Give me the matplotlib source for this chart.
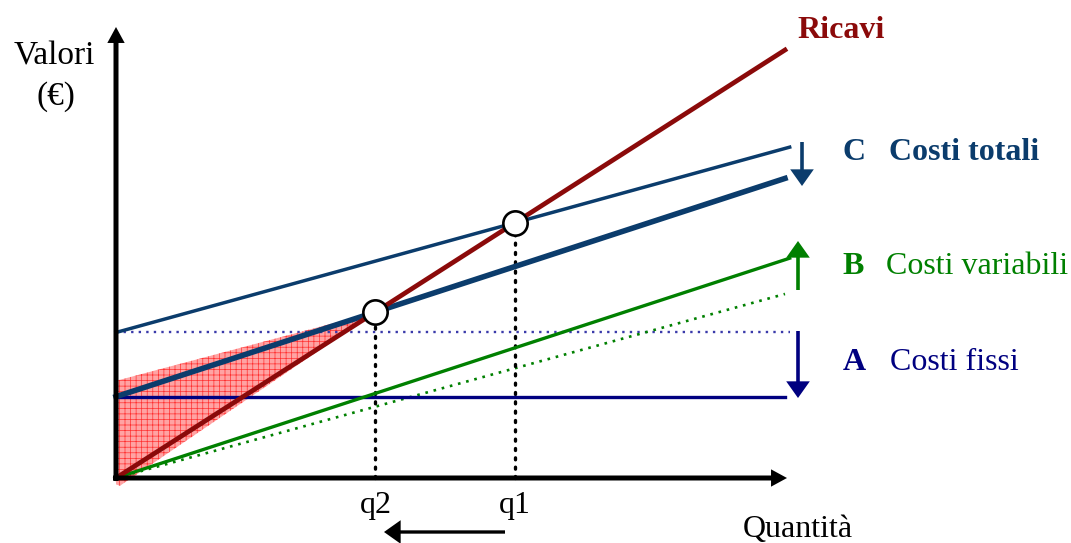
import numpy as np
import matplotlib.pyplot as plt
from matplotlib.patches import Polygon

plt.rcParams['font.family'] = ['Liberation Serif', 'DejaVu Serif']
plt.rcParams['hatch.linewidth'] = 0.5

# Break-even model (price = 1 per unit)
price = 1.0
fixed_old, fixed_new = 34.0, 19.0          # A: fixed costs fall
var_old, var_new = 0.43, 0.51              # B: unit variable cost rises
q_end = 100.0                              # right end of most lines
q_end_long = 100.7                         # right end of the longer ones

q1 = fixed_old / (price - var_old)         # old break-even quantity
q2 = fixed_new / (price - var_new)         # new break-even quantity
loss_top = 22.7                            # top of the loss area at q = 0

C_RIC = '#8b0a0a'
C_TOT = '#0b3c6c'
C_FIX = '#000080'
C_VAR = '#008000'

fig = plt.figure(figsize=(10.71, 5.43), dpi=100)
ax = fig.add_axes([0, 0, 1, 1])
# origin at (116, 478) px; 6.69 px per quantity unit, 4.28 px per value unit
sx, sy = 6.69, 4.28
ax.set_xlim(-116 / sx, (1071 - 116) / sx)
ax.set_ylim((478 - 543) / sy, 478 / sy)
ax.axis('off')


def px(x, y):
    """Figure pixel position -> data coordinates."""
    return (x - 116) / sx, (478 - y) / sy


# loss area between revenue and new total cost
loss = Polygon([(0, loss_top), (q2, price * q2), (0.6, -1.8), (0, -1.5)], closed=True,
               facecolor='#ffa3a3', edgecolor='#ff3030', hatch='+++',
               linewidth=0, zorder=1)
ax.add_patch(loss)


def seg(x_end, intercept, slope, **kw):
    xs = np.array([0.0, x_end])
    ax.plot(xs, intercept + slope * xs, **kw)


# fixed costs
seg(q_end_long, fixed_old, 0, color='#3a3aaa', lw=1.7, ls=(0, (1, 2.2)), zorder=2)
seg(q_end, fixed_new, 0, color=C_FIX, lw=2.4, zorder=3)
# variable costs
seg(q_end, 0, var_old, color=C_VAR, lw=1.9, ls=(0, (1, 2.2)), zorder=2)
seg(q_end_long, 0, var_new, color=C_VAR, lw=2.4, zorder=3)
# total costs
seg(q_end_long, fixed_old, var_old, color=C_TOT, lw=2.5, zorder=3)
seg(q_end, fixed_new, var_new, color=C_TOT, lw=4.0, zorder=3)
# revenue
seg(q_end, 0, price, color=C_RIC, lw=3.4, zorder=4)

# drop lines to the quantity axis and break-even points
for q in (q1, q2):
    ax.plot([q, q], [0, price * q], color='black', lw=2.4, ls=(0, (0.6, 2.2)),
            dash_capstyle='round', zorder=2)
    ax.plot([q], [price * q], marker='o', ms=17.5, mfc='white', mec='black',
            mew=1.9, zorder=6)

# axes with arrowheads
axis_kw = dict(facecolor='black', edgecolor='none', width=3.6, headwidth=12.5,
               headlength=11.5, shrink=0)
ax.annotate('', xy=px(116, 27), xytext=px(116, 481), arrowprops=axis_kw, zorder=5)
ax.annotate('', xy=px(787, 478), xytext=px(113, 478), arrowprops=axis_kw, zorder=5)


# shift arrows
def shift(x0, y0, x1, y1, color, width=2.6):
    ax.annotate('', xy=px(x1, y1), xytext=px(x0, y0),
                arrowprops=dict(facecolor=color, edgecolor='none', width=width,
                                headwidth=17, headlength=12, shrink=0), zorder=5)


shift(802, 142, 802, 186, C_TOT)
shift(798, 290, 798, 241, C_VAR)
shift(798, 331, 798, 398, C_FIX)
shift(505, 532, 384, 532, 'black', width=2.4)

# texts
fs = 23
ax.text(*px(797, 31), 'Ricavi', color=C_RIC, fontsize=fs,
        fontweight='bold', ha='left', va='center')
ax.text(*px(842, 153), 'C', color=C_TOT, fontsize=fs,
        fontweight='bold', ha='left', va='center')
ax.text(*px(889, 153), 'Costi totali', color=C_TOT, fontsize=fs,
        fontweight='bold', ha='left', va='center')
ax.text(*px(842, 267), 'B', color=C_VAR, fontsize=fs,
        fontweight='bold', ha='left', va='center')
ax.text(*px(886, 267), 'Costi variabili', color=C_VAR, fontsize=fs,
        ha='left', va='center')
ax.text(*px(843, 363), 'A', color=C_FIX, fontsize=fs,
        fontweight='bold', ha='left', va='center')
ax.text(*px(890, 363), 'Costi fissi', color=C_FIX, fontsize=fs,
        ha='left', va='center')

ax.text(*px(54, 56), 'Valori', fontsize=24, ha='center', va='center')
ax.text(*px(56, 97), '(€)', fontsize=24, ha='center', va='center')
ax.text(*px(798, 530), 'Quantità', fontsize=fs, ha='center', va='center')
ax.text(q2, (478 - 505) / sy, 'q2', fontsize=fs, ha='center', va='center')
ax.text(q1, (478 - 505) / sy, 'q1', fontsize=fs, ha='center', va='center')

fig.savefig('out.png', dpi=100)
